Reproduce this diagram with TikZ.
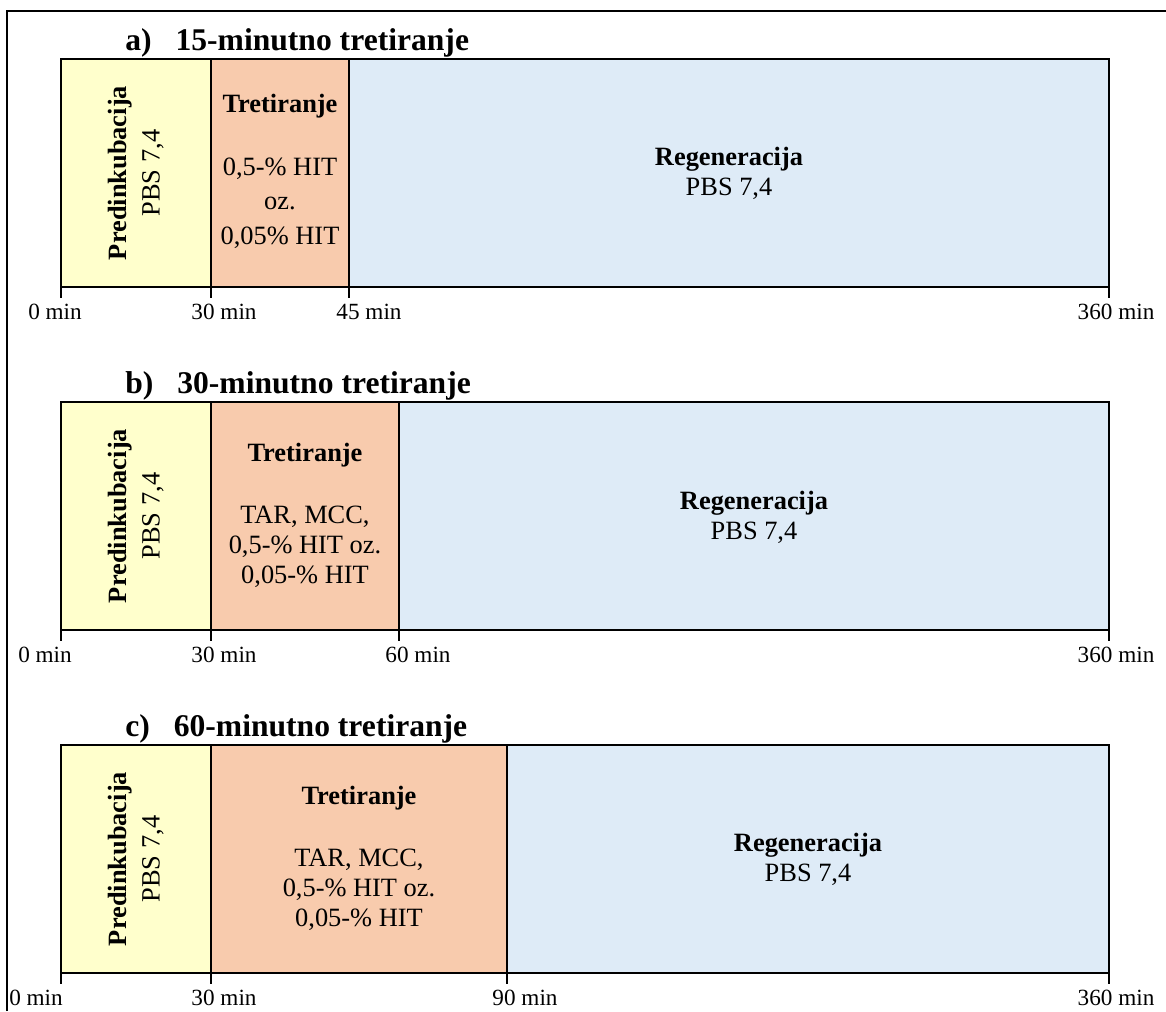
\documentclass[tikz,border=0pt]{standalone}
\usepackage{fontspec}
\setmainfont{Liberation Serif}

\definecolor{preyellow}{HTML}{FFFFCC}
\definecolor{treatorange}{HTML}{F8CBAD}
\definecolor{regenblue}{HTML}{DEEBF7}

\newcommand{\phasefont}{\fontsize{19.8}{22.5}\selectfont}
\newcommand{\titlefont}{\fontsize{23.7}{28}\selectfont\bfseries}
\newcommand{\tickfont}{\fontsize{17.4}{20}\selectfont}

\begin{document}
\begin{tikzpicture}[x=0.75pt,y=-0.75pt,
	box/.style={draw=black,line width=1.5pt},
	phase/.style={align=center,inner sep=0pt,font=\phasefont},
	ticklabel/.style={inner sep=0pt,font=\tickfont},
	paneltitle/.style={anchor=base west,inner sep=0pt,font=\titlefont}]
	\useasboundingbox (0,0) rectangle (1166,1011);
	% frame
	\draw[line width=1.5pt] (7,1011) -- (7,11) -- (1166,11);
	% boxes and ticks: top / end of treatment
	\foreach \y/\t in {59/349, 402/399, 745/507} {
		\draw[box,fill=preyellow] (61,\y) rectangle (211,\y+228);
		\draw[box,fill=treatorange] (211,\y) rectangle (\t,\y+228);
		\draw[box,fill=regenblue] (\t,\y) rectangle (1109,\y+228);
		\foreach \x in {61,211,\t,1109} \draw[line width=1.5pt] (\x,\y+228) -- (\x,\y+239);
	}
	% a)
	\node[paneltitle] (titleA) at (125,50) {a)\hspace{18pt}15-minutno tretiranje};
	\node[phase,rotate=90] (preA) at (136,173) {\textbf{Predinkubacija}\\[2.25pt]PBS 7,4};
	\node[phase] (treatA) at (280,106) {\textbf{Tretiranje}};
	\node[phase] (doseA) at (280,203) {0,5-\% HIT\\[3.4pt]oz.\\[3.4pt]0,05\% HIT};
	\node[phase] (regenA) at (729,173) {\textbf{Regeneracija}\\PBS 7,4};
	\node[ticklabel] (a0) at (55,312) {0 min};
	\node[ticklabel] (a30) at (224,312) {30 min};
	\node[ticklabel] (a45) at (369,312) {45 min};
	\node[ticklabel] (a360) at (1116,312) {360 min};
	% b)
	\node[paneltitle] (titleB) at (125,393) {b)\hspace{18pt}30-minutno tretiranje};
	\node[phase,rotate=90] (preB) at (136,516) {\textbf{Predinkubacija}\\[2.25pt]PBS 7,4};
	\node[phase] (treatB) at (305,455) {\textbf{Tretiranje}};
	\node[phase] (doseB) at (305,547) {TAR, MCC,\\0,5-\% HIT oz.\\0,05-\% HIT};
	\node[phase] (regenB) at (754,517) {\textbf{Regeneracija}\\PBS 7,4};
	\node[ticklabel] (b0) at (45,655) {0 min};
	\node[ticklabel] (b30) at (224,655) {30 min};
	\node[ticklabel] (b60) at (418,655) {60 min};
	\node[ticklabel] (b360) at (1116,655) {360 min};
	% c)
	\node[paneltitle] (titleC) at (125,736) {c)\hspace{18pt}60-minutno tretiranje};
	\node[phase,rotate=90] (preC) at (136,859) {\textbf{Predinkubacija}\\[2.25pt]PBS 7,4};
	\node[phase] (treatC) at (359,798) {\textbf{Tretiranje}};
	\node[phase] (doseC) at (359,890) {TAR, MCC,\\0,5-\% HIT oz.\\0,05-\% HIT};
	\node[phase] (regenC) at (808,859) {\textbf{Regeneracija}\\PBS 7,4};
	\node[ticklabel] (c0) at (36,998) {0 min};
	\node[ticklabel] (c30) at (224,998) {30 min};
	\node[ticklabel] (c90) at (525,998) {90 min};
	\node[ticklabel] (c360) at (1116,998) {360 min};
\end{tikzpicture}
\end{document}
